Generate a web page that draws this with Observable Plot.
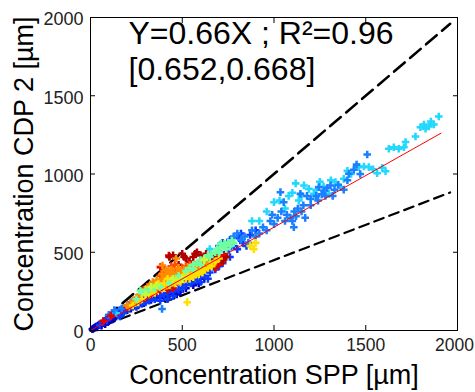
<!DOCTYPE html>
<html><head><meta charset="utf-8">
<script src="https://cdn.jsdelivr.net/npm/d3@7"></script>
<script src="https://cdn.jsdelivr.net/npm/@observablehq/plot@0.6"></script>
<style>body{margin:0;background:#fff}</style>
</head><body><div id="chart"></div>
<script>
// ---- data ----
const xTicks = [0, 500, 1000, 1500, 2000];
const yTicks = [0, 500, 1000, 1500, 2000];
const xLabel = "Concentration SPP [µm]";
const yLabel = "Concentration CDP 2 [µm]";
const annotation = "Y=0.66X ; R²=0.96\n[0.652,0.668]";
const fitSlope = 0.66, fitRange = [0, 1910];
const upperSlope = 1, lowerSlope = 0.45, guideRange = [0, 1960];

const cyanPts = [[1898,1367],[1871,1316],[1844,1304],[1817,1316],[1798,1299],[1826,1289],[1855,1335],[1771,1240],[1717,1204],[1708,1171],[1680,1161],[1653,1171],[1626,1161],[1608,1018],[1562,1005],[1590,1040],[1517,1044],[1490,1048],[1462,1044],[1380,969],[1362,916],[1335,948],[1299,873],[1217,873],[1190,905],[1163,927],[1135,831],[1118,940],[1100,880],[1250,950],[1420,1000],[1540,1030],[1080,860],[1060,780],[1000,820],[960,760],[1310,960],[1270,920],[1230,900],[1150,860],[1030,830],[920,700],[880,700],[650,520],[700,510],[610,440],[560,400],[400,310],[140,110],[1400,1020]];
const dodgerPts = [[1508,1125],[1435,1027],[1408,1001],[1308,927],[1272,895],[1244,916],[1144,873],[1450,1060],[1470,1000],[1400,960],[1350,930],[1330,900],[1290,910],[1260,870],[1230,860],[1200,840],[1180,860],[1160,800],[1130,780],[1110,760],[1100,700],[1090,720],[1070,740],[1060,700],[1040,760],[1020,720],[1000,680],[980,700],[960,640],[940,660],[920,620],[900,600],[880,640],[860,560],[840,600],[820,580],[1380,900],[1320,860],[1150,760],[1120,730],[1200,800],[1108,660],[1053,820],[1035,884],[1240,830],[1280,860],[1170,720],[990,740],[800,620],[780,600],[760,560],[740,540],[390,138],[300,240],[220,180],[130,130],[100,100],[170,140]];
const greenPts = [[770,575],[750,560],[730,555],[720,540],[705,530],[690,520],[680,500],[660,490],[650,470],[640,480],[620,460],[600,450],[580,430],[560,420],[540,400],[760,540],[740,520],[700,500],[780,560],[272,256],[300,250],[280,240],[320,260],[350,270],[250,200],[380,280],[430,300],[480,350],[520,380],[710,555],[600,420],[560,390]];
const limePts = [[330,280],[360,290],[300,230],[500,330],[450,330],[620,450]];
const yellowPts = [[400,300],[450,310],[480,330],[500,340],[520,330],[550,350],[580,370],[600,380],[620,390],[640,400],[660,410],[540,330],[560,340],[430,290],[460,300],[350,240],[320,230],[380,270],[700,460],[680,440],[590,360],[890,520],[870,540],[900,560],[527,181],[230,160],[260,180],[470,320],[510,350],[400,270],[370,300],[420,330],[440,320],[490,310],[530,360],[570,380],[610,370],[650,420],[300,260],[280,200],[340,250]];
const orangePts = [[350,300],[370,310],[390,330],[410,340],[430,350],[450,360],[470,370],[490,380],[510,390],[530,400],[550,410],[570,420],[590,430],[420,380],[440,390],[380,290],[400,320],[460,340],[500,350],[520,360],[540,370],[560,390],[300,250],[320,280],[480,400],[620,440],[410,385],[392,415],[467,460],[200,160],[220,170],[240,180],[210,150],[340,310],[360,320],[440,340],[580,400],[650,440],[330,290],[370,280],[410,300],[450,320],[490,360],[530,350],[570,360],[610,390],[270,230],[250,210],[230,190],[390,360],[430,330]];
const orangeRedPts = [[300,230],[320,260],[340,270],[360,300],[380,320],[400,340],[420,350],[440,370],[460,380],[480,390],[500,400],[520,410],[540,420],[560,410],[580,420],[600,440],[620,430],[640,420],[660,420],[420,320],[440,300],[460,330],[480,350],[500,360],[330,250],[360,260],[450,350],[470,360],[490,340],[510,370],[530,380],[550,390],[570,380],[590,400],[610,410],[630,400],[280,220],[260,200],[290,260],[310,280],[380,350],[400,380],[440,410],[460,420]];
const redPts = [[250,180],[270,200],[300,210],[330,230],[360,250],[380,260],[410,280],[440,290],[470,310],[200,150],[230,170],[500,320],[530,340],[560,360],[680,400],[700,420],[720,440],[600,400],[450,270],[420,260],[381,405],[427,479],[430,473],[70,60],[110,95],[690,460],[730,480]];
const darkRedPts = [[430,470],[450,480],[500,490],[520,460],[560,470],[580,500],[600,480],[620,460],[650,470],[680,480],[700,470],[540,440],[600,430],[720,450],[740,470],[660,440],[480,420],[510,470],[570,490],[630,490]];
const bluePts = [[250,150],[280,170],[300,180],[320,190],[350,200],[380,220],[400,230],[420,240],[450,250],[480,260],[500,270],[520,290],[550,300],[580,320],[600,340],[620,350],[650,370],[680,390],[420,200],[450,220],[380,190],[500,290],[540,310],[560,330],[600,310],[640,330],[50,35],[70,55],[90,65],[110,90],[130,110],[150,100],[170,120],[190,130],[140,120],[120,110],[100,90],[85,75],[160,130],[180,110],[200,160],[210,140],[230,150],[160,90],[700,410],[720,430],[760,470],[800,520],[830,560],[850,540],[870,610],[900,640],[700,540],[720,560],[750,520],[780,540],[810,590],[680,480],[740,500],[760,580],[820,620],[650,440],[700,460]];
const darkBluePts = [[20,15],[30,25],[40,30],[50,40],[60,45],[70,50],[80,60],[90,70],[100,80],[110,85],[120,95],[130,100],[140,90],[150,110],[100,60],[60,30],[80,40],[120,70],[160,100],[180,120],[200,130],[220,140],[240,160],[130,85],[110,75],[95,55],[75,60],[45,35],[35,20],[25,20],[10,8],[15,12],[260,160],[290,175],[330,195],[360,210],[400,210],[430,230],[460,240],[490,250],[520,270],[560,290],[590,300],[620,330],[470,230],[410,220]];

// draw order and colours (jet-like)
const groups = [darkBluePts, bluePts, cyanPts, dodgerPts, redPts, darkRedPts, orangeRedPts, orangePts, yellowPts, greenPts, limePts];
const groupColors = ["#0000c8", "#0a3cff", "#22d8ff", "#1a80ff", "#e00000", "#b00000", "#ff4a00", "#ff8c00", "#ffe000", "#70ffa0", "#c0ff40"];

// ---- table built from arrays ----
const points = groups.flatMap((g, i) => g.map(([x, y]) => ({x, y, c: groupColors[i]})));
const upperLine = guideRange.map(x => ({x, y: upperSlope * x}));
const lowerLine = guideRange.map(x => ({x, y: lowerSlope * x}));
const fitLine = fitRange.map(x => ({x, y: fitSlope * x}));
const xTicksInner = xTicks.slice(0, -1);
const xTickLast = xTicks.slice(-1);

const font = "'Liberation Sans', Arial, Helvetica, sans-serif";
const blank = () => "";
const plain = d => String(d);

const chart = Plot.plot({
  width: 475, height: 392,
  marginLeft: 90, marginRight: 18, marginTop: 17, marginBottom: 62,
  x: {domain: [0, 2000]},
  y: {domain: [0, 2000]},
  color: {type: "identity"},
  style: {fontFamily: font, background: "#fff"},
  marks: [
    Plot.line(upperLine, {x: "x", y: "y", stroke: "#000", strokeWidth: 2.6, strokeDasharray: "14,7"}),
    Plot.line(lowerLine, {x: "x", y: "y", stroke: "#000", strokeWidth: 2.2, strokeDasharray: "10,6"}),
    Plot.dot(points, {x: "x", y: "y", fill: "c", symbol: "cross", r: 3.2}),
    Plot.line(fitLine, {x: "x", y: "y", stroke: "#ff0000", strokeWidth: 1}),
    Plot.frame({stroke: "#000", strokeWidth: 1}),
    Plot.axisX(xTicks, {anchor: "bottom", tickSize: -5, tickFormat: blank, label: null}),
    Plot.axisX(xTicks, {anchor: "top", tickSize: -5, tickFormat: blank, label: null}),
    Plot.axisY(yTicks, {anchor: "left", tickSize: -5, tickFormat: blank, label: null}),
    Plot.axisY(yTicks, {anchor: "right", tickSize: -5, tickFormat: blank, label: null}),
    Plot.axisX(xTicksInner, {anchor: "bottom", tickSize: 0, tickPadding: 8, fontSize: 17.5, fill: "#222", tickFormat: plain, label: null}),
    Plot.axisX(xTickLast, {anchor: "bottom", tickSize: 0, tickPadding: 8, fontSize: 17.5, fill: "#222", tickFormat: plain, dx: -3, label: null}),
    Plot.axisY(yTicks, {anchor: "left", tickSize: 0, tickPadding: 7, fontSize: 18, fill: "#222", dy: 2, tickFormat: plain, label: null}),
    Plot.text([xLabel], {frameAnchor: "bottom", text: d => d, dy: 53, textAnchor: "middle", lineAnchor: "bottom", fontSize: 27, fill: "#000"}),
    Plot.text([yLabel], {frameAnchor: "left", text: d => d, dx: -58, rotate: -90, textAnchor: "middle", lineAnchor: "bottom", fontSize: 27, fill: "#000"}),
    Plot.text([annotation], {frameAnchor: "top-left", text: d => d, dx: 38, dy: 1, textAnchor: "start", lineAnchor: "top", lineHeight: 1.125, fontSize: 32, fill: "#000"})
  ]
});
document.getElementById("chart").appendChild(chart);
</script>
</body></html>
